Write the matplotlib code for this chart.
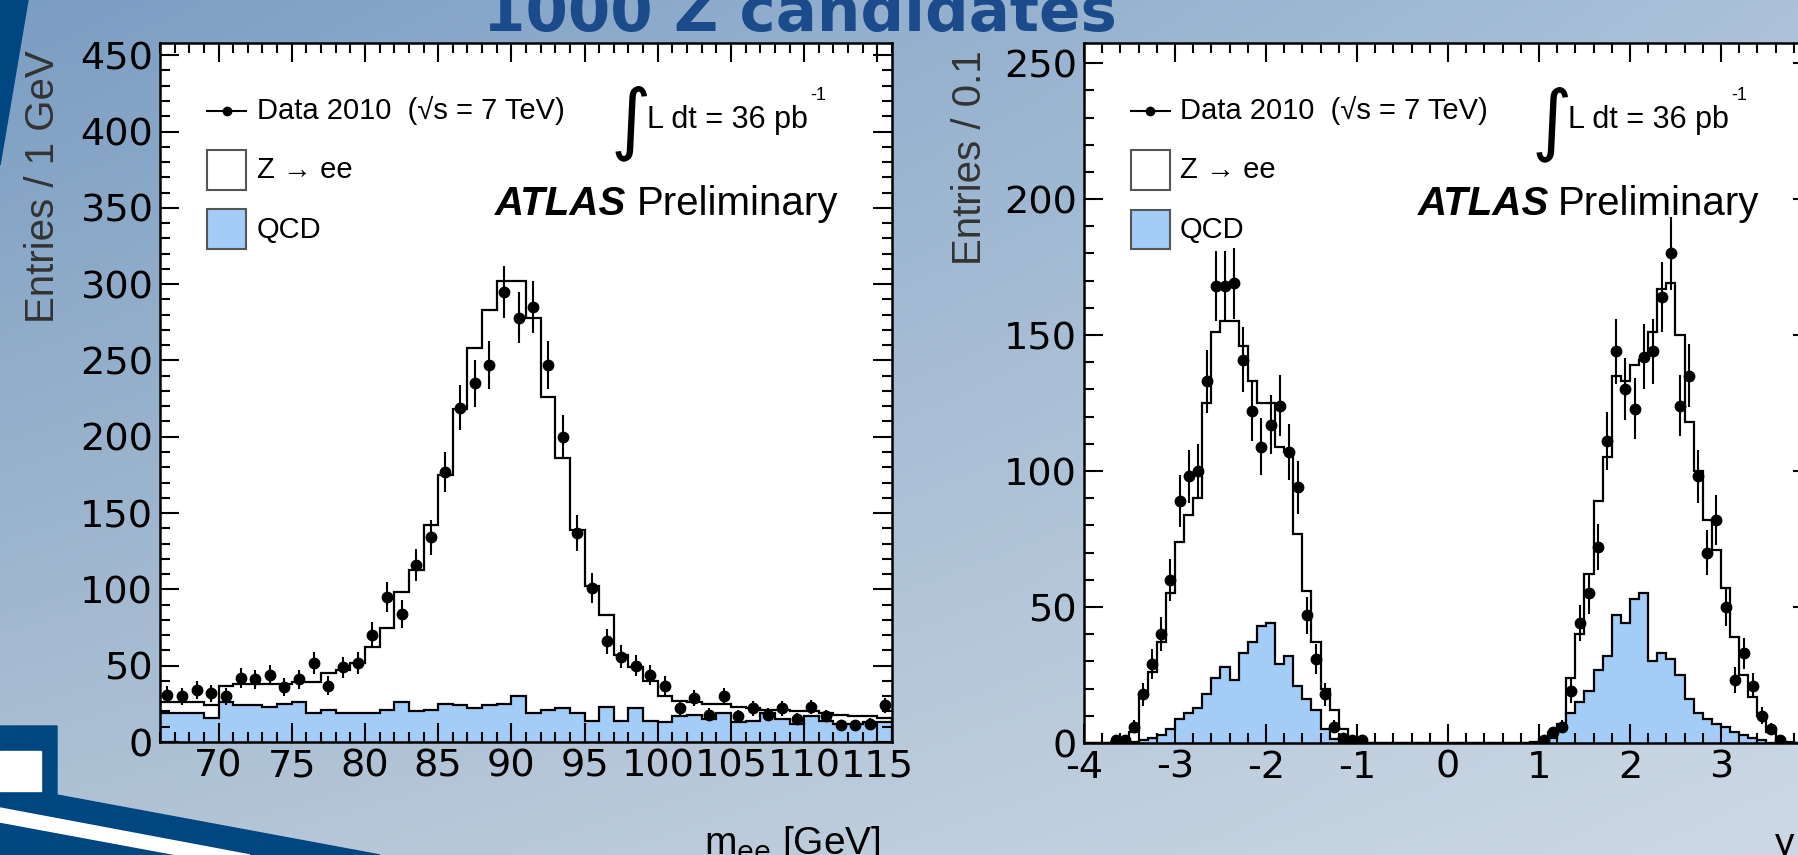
import numpy as np
import matplotlib.pyplot as plt
from matplotlib.patches import Polygon, Rectangle
from matplotlib.lines import Line2D
from matplotlib.ticker import MultipleLocator

plt.rcParams['font.family'] = ['Liberation Sans', 'DejaVu Sans']
plt.rcParams['axes.unicode_minus'] = False

# m_ee histogram, 1 GeV bins from 66 to 116
mee_edges = np.arange(66, 117, 1)
mee_total = [26, 26, 26, 24, 37, 38, 38, 38, 38, 39,
             39, 45, 47, 52, 62, 75, 98, 113, 142, 175,
             218, 258, 283, 302, 302, 278, 226, 186, 139, 102,
             83, 57, 49, 40, 30, 27, 26, 25, 25, 23,
             22, 21, 21, 20, 20, 19, 18, 17, 17, 16]
mee_qcd = [19, 19, 19, 16, 26, 24, 24, 23, 25, 26,
           19, 21, 19, 19, 19, 21, 26, 20, 21, 25,
           24, 22, 24, 25, 30, 19, 21, 22, 19, 14,
           23, 14, 22, 14, 13, 17, 18, 15, 19, 13,
           14, 19, 15, 12, 17, 14, 12, 12, 13, 13]
mee_data = [31, 30, 34, 32, 30, 42, 41, 44, 36, 41,
            52, 37, 49, 52, 70, 95, 84, 116, 134, 177,
            219, 235, 247, 295, 278, 285, 247, 200, 137, 101,
            66, 56, 50, 44, 37, 22, 29, 18, 30, 17,
            22, 18, 22, 15, 23, 17, 11, 11, 12, 24]

# rapidity histogram, 0.1 bins from -4 to 4
y_edges = np.linspace(-4, 4, 81)
y_total = [0, 0, 0, 0.5, 1.5, 4, 18, 26, 37, 55,
           74, 84, 90, 125, 151, 155, 155, 146, 133, 125,
           125, 109, 107, 77, 56, 37, 20, 12, 5, 1.5,
           0.5, 0, 0, 0, 0, 0, 0, 0, 0, 0,
           0, 0, 0, 0, 0, 0, 0, 0, 0, 0.5,
           1, 4, 7, 24, 40, 62, 89, 105, 135, 133,
           139, 141, 151, 167, 169, 150, 118, 100, 82, 71,
           57, 39, 25, 17, 10, 4, 1.5, 0.5, 0, 0]
y_qcd = [0, 0, 0, 0, 0, 0.5, 1, 2, 3, 5,
         9, 11, 13, 18, 24, 28, 23, 33, 37, 43,
         44, 29, 32, 21, 16, 12, 5, 1.5, 0.5, 0,
         0, 0, 0, 0, 0, 0, 0, 0, 0, 0,
         0, 0, 0, 0, 0, 0, 0, 0, 0, 0,
         0.7, 2, 6, 11, 15, 19, 27, 32, 47, 44,
         53, 55, 30, 33, 31, 25, 16, 11, 9, 7,
         6, 4, 3, 2, 1, 0, 0, 0, 0, 0]
y_data = [0, 0, 0, 1, 1, 6, 18, 29, 40, 60,
          89, 98, 100, 133, 168, 168, 169, 141, 122, 109,
          117, 124, 107, 94, 47, 31, 18, 6, 2, 1,
          1, 0, 0, 0, 0, 0, 0, 0, 0, 0,
          0, 0, 0, 0, 0, 0, 0, 0, 0, 0,
          1, 4, 6, 19, 44, 55, 72, 111, 144, 130,
          123, 142, 144, 164, 180, 124, 135, 98, 70, 82,
          50, 23, 33, 21, 10, 5, 1, 0, 0, 0]

W, H = 1799, 855
DARK = '#004680'
QCD_BLUE = '#a3ccf7'

fig = plt.figure(figsize=(W / 100, H / 100), dpi=100)

# slide background
bg = fig.add_axes([0, 0, 1, 1])
bg.set_axis_off()
yy, xx = np.mgrid[0:1:214j, 0:1:450j]
tl = np.array([122, 157, 194]); tr = np.array([170, 193, 217])
bl = np.array([176, 195, 213]); br = np.array([205, 216, 228])
img = (tl * ((1 - xx) * (1 - yy))[..., None] + tr * (xx * (1 - yy))[..., None]
       + bl * ((1 - xx) * yy)[..., None] + br * (xx * yy)[..., None]) / 255
bg.imshow(img, extent=[0, W, H, 0], aspect='auto')
bg.set_xlim(0, W)
bg.set_ylim(H, 0)
bg.add_patch(Polygon([(0, 0), (28, 0), (0, 165)], color=DARK))
bg.add_patch(Polygon([(0, 726), (57, 726), (57, 795), (380, 855), (0, 855)], color=DARK))
bg.add_patch(Rectangle((0, 751), 41, 40, color='white'))
bg.add_patch(Polygon([(0, 808), (250, 855), (178, 855), (0, 822)], color='white'))
bg.text(800, 31, '1000 Z candidates', ha='center', va='baseline', fontsize=44,
        fontweight='bold', color='#1c4b8c', family='DejaVu Sans')

ax1 = fig.add_axes([160 / W, (H - 742) / H, 732 / W, 699 / H])
ax2 = fig.add_axes([1084 / W, (H - 743) / H, 728 / W, 700 / H])


def draw(ax, edges, total, qcd, data):
    edges = np.asarray(edges)
    total = np.asarray(total, float)
    qcd = np.asarray(qcd, float)
    data = np.asarray(data, float)
    ax.stairs(total, edges, fill=True, facecolor='white', edgecolor='none')
    ax.stairs(total, edges, color='black', lw=1.6)
    ax.stairs(qcd, edges, fill=True, facecolor=QCD_BLUE, edgecolor='none')
    ax.stairs(qcd, edges, color='black', lw=1.6)
    centers = 0.5 * (edges[1:] + edges[:-1])
    m = data > 0
    ax.errorbar(centers[m], data[m], yerr=np.sqrt(data[m]), fmt='o', color='black',
                ms=7.5, elinewidth=1.5, capsize=0)


def style(ax, ymax, xmaj, xmin):
    ax.set_facecolor('white')
    ax.set_ylim(0, ymax)
    ax.xaxis.set_major_locator(MultipleLocator(xmaj))
    ax.xaxis.set_minor_locator(MultipleLocator(xmin))
    ax.yaxis.set_major_locator(MultipleLocator(50))
    ax.yaxis.set_minor_locator(MultipleLocator(10))
    ax.tick_params(which='both', direction='in', top=True, right=True, width=1.5,
                   labelsize=27.5, pad=5, labelfontfamily='DejaVu Sans')
    ax.tick_params(which='major', length=14)
    ax.tick_params(which='minor', length=7)
    for s in ax.spines.values():
        s.set_linewidth(1.8)


def legend(ax):
    t = ax.transAxes
    ax.add_line(Line2D([0.064, 0.118], [0.903, 0.903], transform=t, color='black', lw=1.5))
    ax.plot([0.091], [0.903], 'o', color='black', ms=6, transform=t)
    ax.text(0.132, 0.903, 'Data 2010  (\u221as = 7 TeV)', transform=t, va='center', fontsize=21)
    ax.add_patch(Rectangle((0.064, 0.79), 0.054, 0.057, transform=t, fc='white', ec='#555555', lw=1.5))
    ax.text(0.132, 0.818, 'Z \u2192 ee', transform=t, va='center', fontsize=21)
    ax.add_patch(Rectangle((0.064, 0.705), 0.054, 0.057, transform=t, fc=QCD_BLUE, ec='#555555', lw=1.5))
    ax.text(0.132, 0.733, 'QCD', transform=t, va='center', fontsize=21)
    ax.text(0.615, 0.885, '\u222b', transform=t, va='center', fontsize=56, family='DejaVu Sans')
    ax.text(0.665, 0.89, 'L dt = 36 pb', transform=t, va='center', fontsize=22)
    ax.text(0.889, 0.925, '-1', transform=t, va='center', fontsize=13)
    ax.text(0.458, 0.77, 'ATLAS', transform=t, va='center', fontsize=29,
            fontweight='bold', style='italic')
    ax.text(0.651, 0.77, 'Preliminary', transform=t, va='center', fontsize=29)


draw(ax1, mee_edges, mee_total, mee_qcd, mee_data)
style(ax1, 458, 5, 1)
ax1.set_xlim(66, 116)
legend(ax1)
ax1.text(-0.16, 0.99, 'Entries / 1 GeV', transform=ax1.transAxes, rotation=90,
         ha='center', va='top', fontsize=29, color='#333333')
ax1.text(0.984, -0.118, r'm$_{\rm ee}$ [GeV]', transform=ax1.transAxes,
         ha='right', va='top', fontsize=28)

draw(ax2, y_edges, y_total, y_qcd, y_data)
style(ax2, 257.4, 1, 0.2)
ax2.set_xlim(-4, 4)
legend(ax2)
ax2.text(-0.157, 0.99, 'Entries / 0.1', transform=ax2.transAxes, rotation=90,
         ha='center', va='top', fontsize=29, color='#333333')
ax2.text(0.963, -0.12, 'y', transform=ax2.transAxes, ha='center', va='top', fontsize=28)

fig.savefig('out.png', dpi=100)
